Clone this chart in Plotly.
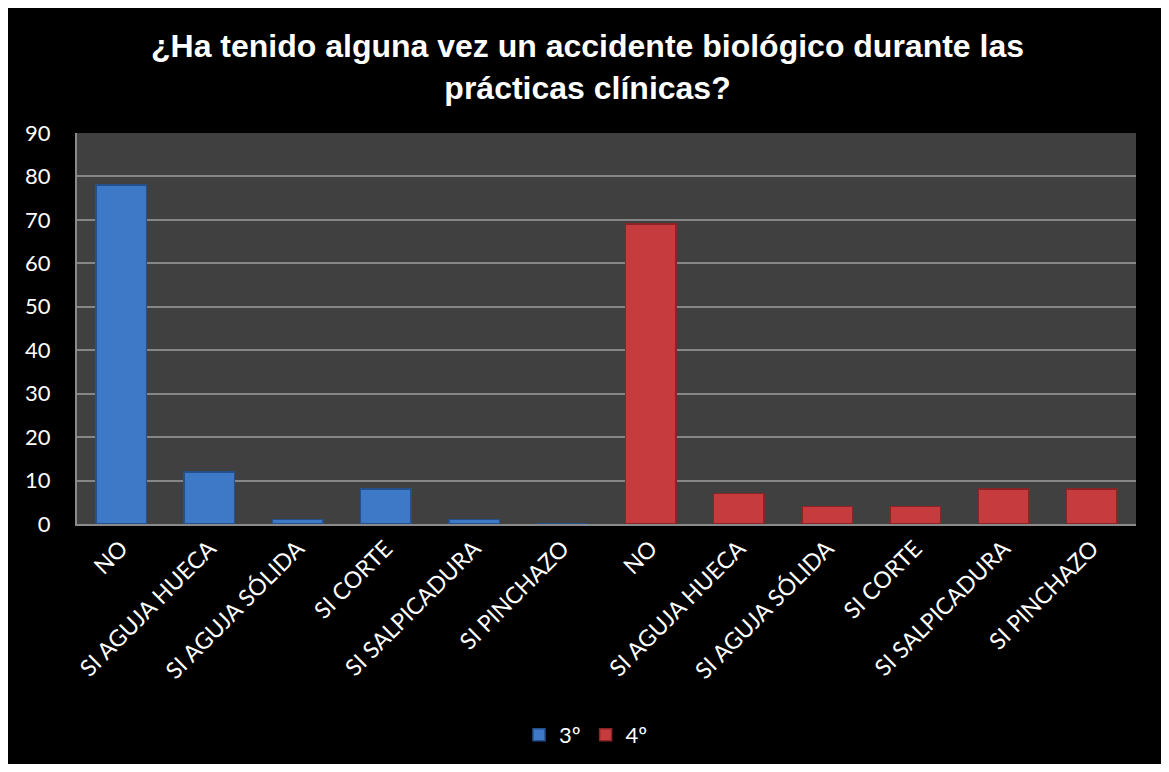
import plotly.graph_objects as go

categories = ["NO", "SI AGUJA HUECA", "SI AGUJA SÓLIDA", "SI CORTE", "SI SALPICADURA", "SI PINCHAZO",
              "NO", "SI AGUJA HUECA", "SI AGUJA SÓLIDA", "SI CORTE", "SI SALPICADURA", "SI PINCHAZO"]
series_3 = [78, 12, 1, 8, 1, 0, None, None, None, None, None, None]
series_4 = [None, None, None, None, None, None, 69, 7, 4, 4, 8, 8]
positions = list(range(len(categories)))

# page body has an 8px margin; the figure sits inside it
W, H = 1153, 756
ML, MR, MT, MB = 69, 25, 125, 240
PW, PH = W - ML - MR, H - MT - MB

fig = go.Figure()
fig.add_trace(go.Bar(x=positions, y=series_3, name="3º",
                     marker=dict(color="#3D79C7", line=dict(color="#25508C", width=1.5))))
fig.add_trace(go.Bar(x=positions, y=series_4, name="4º",
                     marker=dict(color="#C63C3E", line=dict(color="#8A2426", width=1.5))))

fam = "Lato, Open Sans, sans-serif"

fig.update_layout(
    width=W, height=H,
    margin=dict(l=ML, r=MR, t=MT, b=MB, autoexpand=False),
    paper_bgcolor="black",
    plot_bgcolor="#404040",
    barmode="stack",
    bargap=0.43,
    xaxis=dict(tickmode="array", tickvals=positions, ticktext=categories, tickangle=-45,
               range=[-0.5, len(categories) - 0.5], showgrid=False,
               showline=True, linecolor="#8a8a8a", linewidth=2, ticks="",
               tickfont=dict(family=fam, size=23, color="white")),
    yaxis=dict(range=[0, 90], dtick=10, showgrid=True, gridcolor="#868686", gridwidth=2,
               showline=True, linecolor="#8a8a8a", linewidth=2, ticks="", zeroline=False,
               ticklabelstandoff=20, tickfont=dict(family=fam, size=22, color="white")),
    legend=dict(orientation="h", traceorder="normal", x=(578 - ML) / PW, xanchor="center",
                y=(MT + PH - 727) / PH, yanchor="middle",
                font=dict(family=fam, size=22, color="white"),
                bgcolor="rgba(0,0,0,0)"),
    showlegend=True,
    annotations=[dict(text="¿Ha tenido alguna vez un accidente biológico durante las<br>prácticas clínicas?",
                      xref="paper", yref="paper", x=(579 - ML) / PW, y=(MT + PH - 59) / PH,
                      xanchor="center", yanchor="middle", showarrow=False, align="center",
                      font=dict(family="Liberation Sans, Arial, sans-serif", size=32,
                                color="white", weight="bold"))],
)

fig.write_html("out.html")
